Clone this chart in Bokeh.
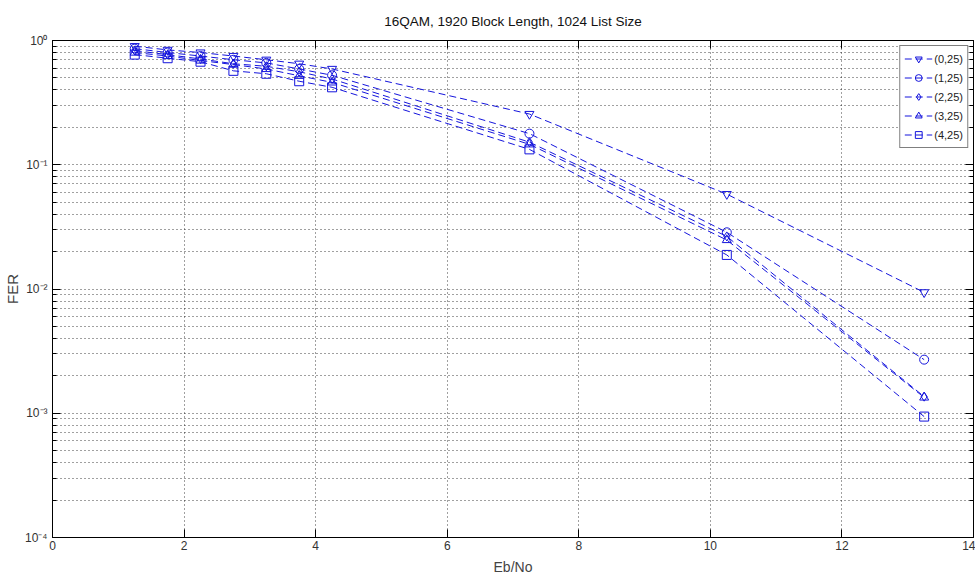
from bokeh.plotting import figure
from bokeh.models import (LogAxis, LinearAxis, FixedTicker, Legend, LegendItem,
                          Range1d, CustomJSTickFormatter)
from bokeh.embed import file_html
from bokeh.resources import INLINE

ebno = [1.25, 1.75, 2.25, 2.75, 3.25, 3.75, 4.25, 7.25, 10.25, 13.25]
fer_0_25 = [0.90, 0.84, 0.80, 0.75, 0.70, 0.65, 0.59, 0.256, 0.058, 0.0094]
fer_1_25 = [0.86, 0.80, 0.75, 0.70, 0.66, 0.59, 0.525, 0.178, 0.0286, 0.0027]
fer_2_25 = [0.83, 0.77, 0.71, 0.65, 0.62, 0.56, 0.49, 0.152, 0.0265, 0.00136]
fer_3_25 = [0.80, 0.75, 0.69, 0.64, 0.59, 0.52, 0.46, 0.146, 0.0248, 0.00134]
fer_4_25 = [0.77, 0.72, 0.675, 0.57, 0.54, 0.47, 0.42, 0.133, 0.0188, 0.00094]

series_names = ["(0,25)", "(1,25)", "(2,25)", "(3,25)", "(4,25)"]
series_values = [fer_0_25, fer_1_25, fer_2_25, fer_3_25, fer_4_25]
markers = ["inverted_triangle", "circle", "diamond", "triangle", "square"]

x_ticks = [0, 2, 4, 6, 8, 10, 12, 14]
y_ticks = [1e-4, 1e-3, 1e-2, 1e-1, 1]
y_minor = [m * 10.0 ** e for e in range(-4, 0) for m in range(2, 10)]
y_tick_labels = ["10\u207b\u2074", "10\u207b\u00b3", "10\u207b\u00b2", "10\u207b\u00b9", "10\u2070"]

BLUE = "#1414dc"
FONT = "Liberation Sans"

p = figure(width=975, height=577, y_axis_type="log",
           x_range=Range1d(0, 14), y_range=Range1d(1e-4, 1),
           output_backend="svg", toolbar_location=None,
           title="16QAM, 1920 Block Length, 1024 List Size",
           min_border_left=51, min_border_right=2,
           min_border_top=40, min_border_bottom=37)

p.title.align = "center"
p.title.vertical_align = "top"
p.title.text_font = FONT
p.title.text_font_size = "13.5px"
p.title.text_font_style = "normal"
p.title.text_color = "#111111"
p.title.standoff = 20

p.outline_line_color = "black"
p.outline_line_width = 1

# bottom x axis
xa = p.xaxis[0]
xa.ticker = FixedTicker(ticks=x_ticks)
xa.axis_label = "Eb/No"
xa.axis_label_text_font = FONT
xa.axis_label_text_font_size = "14px"
xa.axis_label_text_font_style = "normal"
xa.axis_label_standoff = 6
xa.major_label_text_font = FONT
xa.major_label_text_font_size = "12px"
xa.major_label_text_color = "#333333"
xa.major_label_standoff = 3
xa.major_tick_in = 8
xa.major_tick_out = 0
xa.minor_tick_in = 0
xa.minor_tick_out = 0
xa.axis_line_color = "black"

# left y axis
ya = p.yaxis[0]
ya.ticker = FixedTicker(ticks=y_ticks, minor_ticks=y_minor)
ya.major_label_overrides = {t: lab for t, lab in zip(y_ticks, y_tick_labels)}
ya.axis_label = "FER"
ya.axis_label_text_font = FONT
ya.axis_label_text_font_size = "15px"
ya.axis_label_text_font_style = "normal"
ya.axis_label_standoff = 1
ya.major_label_text_font = FONT
ya.major_label_text_font_size = "12px"
ya.major_label_text_color = "#333333"
ya.major_label_standoff = 5
ya.major_tick_in = 8
ya.major_tick_out = 0
ya.minor_tick_in = 4
ya.minor_tick_out = 0
ya.axis_line_color = "black"

# top and right axes (ticks only)
top = LinearAxis(ticker=FixedTicker(ticks=x_ticks),
                 formatter=CustomJSTickFormatter(code="return ''"),
                 major_label_standoff=0, major_tick_in=8, major_tick_out=0,
                 minor_tick_in=0, minor_tick_out=0, axis_line_color="black")
right = LogAxis(ticker=FixedTicker(ticks=y_ticks, minor_ticks=y_minor),
                formatter=CustomJSTickFormatter(code="return ''"),
                major_label_standoff=0,
                major_tick_in=8, major_tick_out=0, minor_tick_in=4, minor_tick_out=0,
                axis_line_color="black")
p.add_layout(top, "above")
p.add_layout(right, "right")

# grids
p.xgrid.ticker = FixedTicker(ticks=x_ticks)
p.xgrid.grid_line_color = "black"
p.xgrid.grid_line_alpha = 0.75
p.xgrid.grid_line_dash = "1 3"
p.ygrid.ticker = FixedTicker(ticks=y_ticks, minor_ticks=y_minor)
p.ygrid.grid_line_color = "black"
p.ygrid.grid_line_alpha = 0.75
p.ygrid.grid_line_dash = "1 3"
p.ygrid.minor_grid_line_color = "black"
p.ygrid.minor_grid_line_alpha = 0.75
p.ygrid.minor_grid_line_dash = "1 3"

items = []
for name, vals, mk in zip(series_names, series_values, markers):
    ln = p.line(ebno, vals, line_color=BLUE, line_width=1, line_dash="7 4")
    sc = p.scatter(ebno, vals, marker=mk, size=9, line_color=BLUE, line_width=1,
                   fill_alpha=0)
    items.append(LegendItem(label=name, renderers=[ln, sc]))

legend = Legend(items=items, location="top_right")
legend.label_text_font = FONT
legend.label_text_font_size = "11px"
legend.label_text_color = "#222222"
legend.border_line_color = "black"
legend.border_line_width = 1
legend.background_fill_alpha = 1
legend.margin = 5
legend.padding = 4
legend.spacing = 2
legend.glyph_width = 28
legend.glyph_height = 17
legend.label_standoff = 2
legend.label_height = 17
p.add_layout(legend)

open("out.html", "w").write(file_html(p, INLINE))
